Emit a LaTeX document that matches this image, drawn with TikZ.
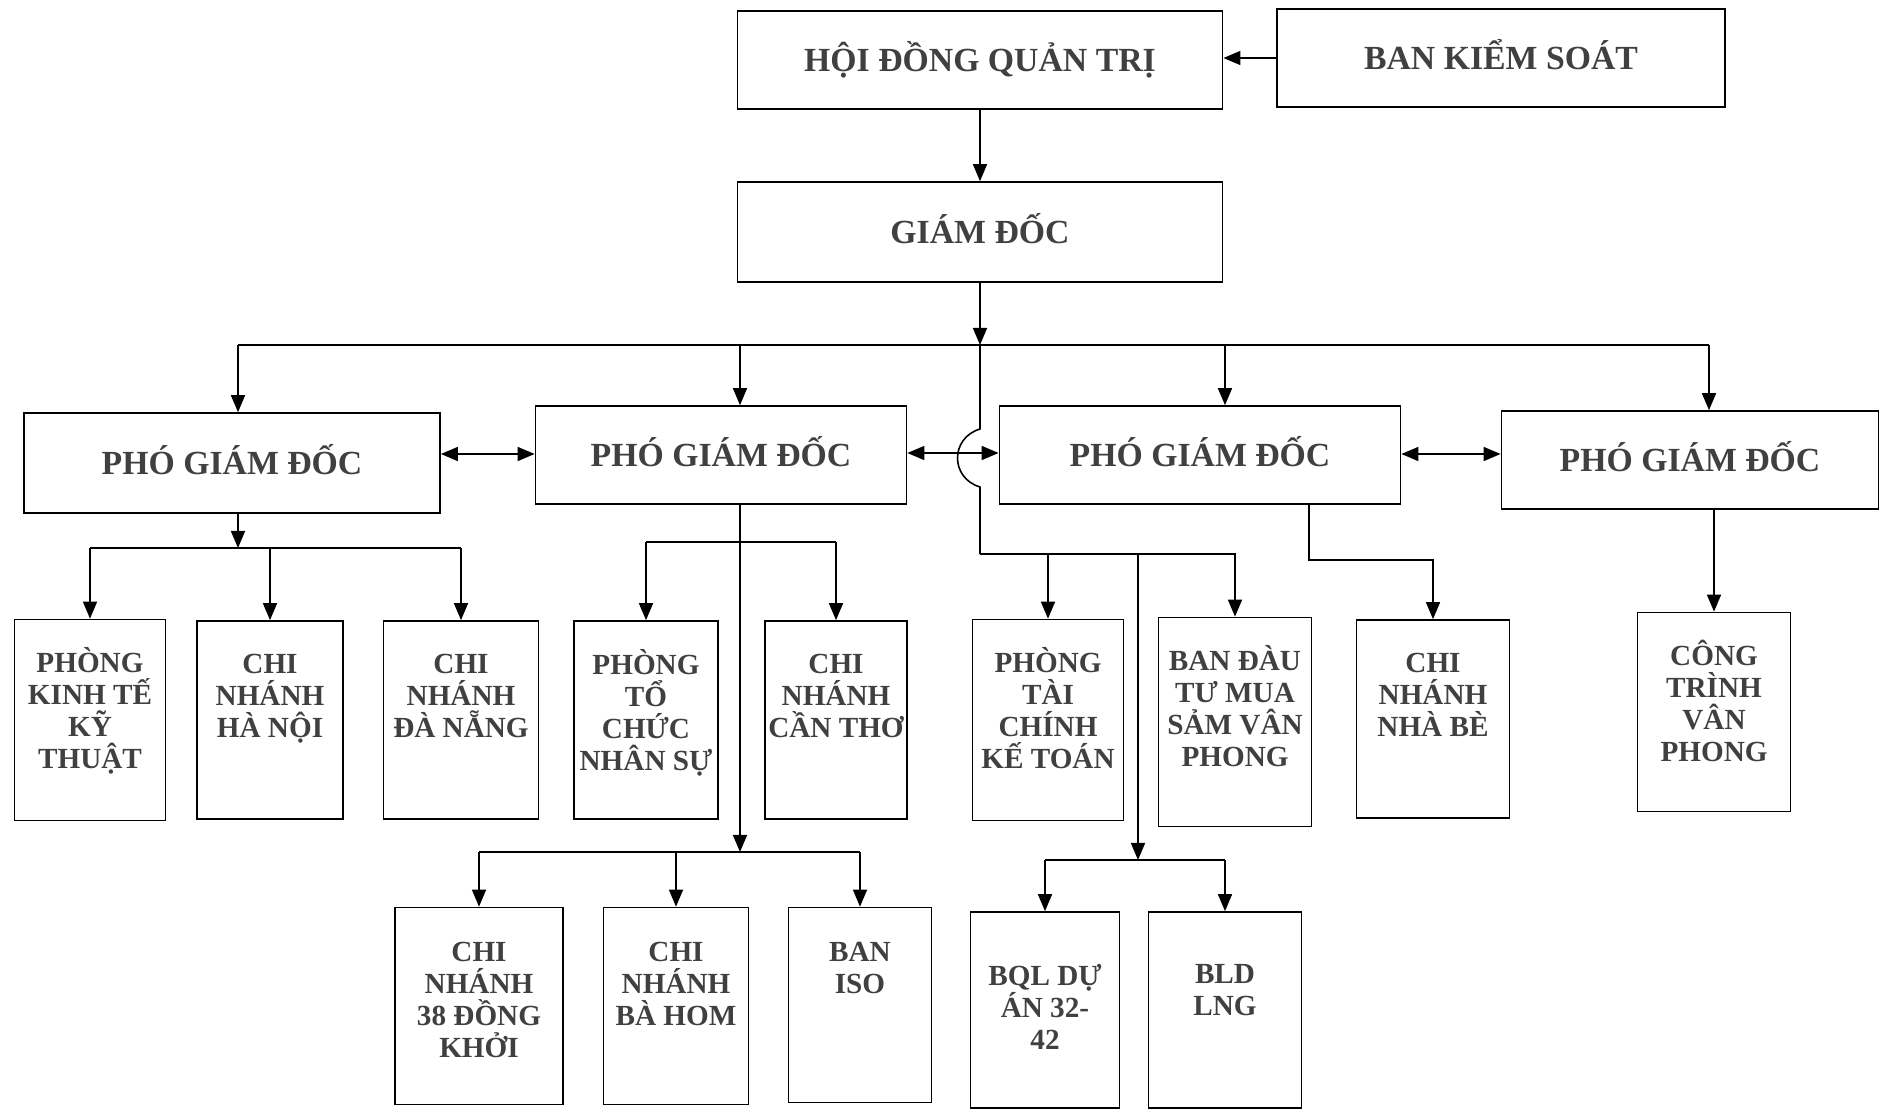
\documentclass[tikz,border=0pt]{standalone}
\usepackage{fontspec}
\setmainfont{Liberation Serif}
\usepackage{xcolor}
\usetikzlibrary{arrows.meta}
\definecolor{txt}{HTML}{404040}

\begin{document}
\begin{tikzpicture}[x=0.01cm,y=-0.01cm,->,>={Triangle[length=0.17cm,width=0.14cm]},line width=0.45pt,
    big box/.style={draw,-,minimum height=0.98cm,inner sep=0pt,text height=6.4pt,text depth=0pt,text=txt,font=\bfseries\fontsize{9.6}{11}\selectfont},
    unit box/.style={draw,-,minimum height=1.98cm,inner sep=0pt},
    unit text/.style={anchor=north,yshift=-0.28cm,align=center,inner sep=0pt,text=txt,font=\bfseries\fontsize{8.3}{9.1}\selectfont}]

    \useasboundingbox (0,0) rectangle (1887,1109);

    \node[big box, minimum width=4.85cm] (hdqt) at (980,60) {HỘI ĐỒNG QUẢN TRỊ};
    \node[big box, minimum width=4.48cm] (bks) at (1501,58) {BAN KIỂM SOÁT};
    \node[big box, minimum width=4.85cm, minimum height=1.0cm] (gd) at (980,232) {GIÁM ĐỐC};

    \node[big box, minimum width=4.16cm, minimum height=1.0cm] (pgd1) at (232,463) {PHÓ GIÁM ĐỐC};
    \node[big box, minimum width=3.71cm] (pgd2) at (721,455) {PHÓ GIÁM ĐỐC};
    \node[big box, minimum width=4.01cm] (pgd3) at (1200,455) {PHÓ GIÁM ĐỐC};
    \node[big box, minimum width=3.77cm] (pgd4) at (1690,460) {PHÓ GIÁM ĐỐC};

    \node[unit box, minimum width=1.51cm, minimum height=2.01cm, label={[unit text]north:{PHÒNG\\KINH TẾ\\KỸ\\THUẬT}}] (pktkt) at (90,720) {};
    \node[unit box, minimum width=1.46cm, label={[unit text, yshift=-0.05cm]north:{CHI\\NHÁNH\\HÀ NỘI}}] (cnhn) at (270,720) {};
    \node[unit box, minimum width=1.55cm, label={[unit text, yshift=-0.05cm]north:{CHI\\NHÁNH\\ĐÀ NẴNG}}] (cndn) at (461,720) {};
    \node[unit box, minimum width=1.44cm, label={[unit text]north:{PHÒNG\\TỔ\\CHỨC\\NHÂN SỰ}}] (ptcns) at (646,720) {};
    \node[unit box, minimum width=1.42cm, label={[unit text, yshift=-0.05cm]north:{CHI\\NHÁNH\\CẦN THƠ}}] (cnct) at (836,720) {};
    \node[unit box, minimum width=1.51cm, minimum height=2.01cm, label={[unit text]north:{PHÒNG\\TÀI\\CHÍNH\\KẾ TOÁN}}] (ptckt) at (1048,720) {};
    \node[unit box, minimum width=1.53cm, minimum height=2.09cm, label={[unit text]north:{BAN ĐÀU\\TƯ MUA\\SẢM VÂN\\PHONG}}] (bdt) at (1235,722) {};
    \node[unit box, minimum width=1.53cm, label={[unit text, yshift=-0.05cm]north:{CHI\\NHÁNH\\NHÀ BÈ}}] (cnnb) at (1433,719) {};
    \node[unit box, minimum width=1.53cm, minimum height=1.99cm, label={[unit text]north:{CÔNG\\TRÌNH\\VÂN\\PHONG}}] (ctvp) at (1714,712) {};

    \node[unit box, minimum width=1.68cm, minimum height=1.97cm, label={[unit text, yshift=-0.07cm]north:{CHI\\NHÁNH\\38 ĐỒNG\\KHỞI}}] (cn38) at (479,1006) {};
    \node[unit box, minimum width=1.45cm, minimum height=1.97cm, label={[unit text, yshift=-0.07cm]north:{CHI\\NHÁNH\\BÀ HOM}}] (cnbh) at (676,1006) {};
    \node[unit box, minimum width=1.43cm, minimum height=1.95cm, label={[unit text, yshift=-0.07cm]north:{BAN\\ISO}}] (iso) at (860,1005) {};
    \node[unit box, minimum width=1.49cm, minimum height=1.96cm, label={[unit text, yshift=-0.24cm]north:{BQL DỰ\\ÁN 32-\\42}}] (bql) at (1045,1010) {};
    \node[unit box, minimum width=1.53cm, minimum height=1.96cm, label={[unit text, yshift=-0.24cm]north:{BLD\\LNG}}] (bld) at (1225,1010) {};

    \coordinate (top bus) at (980,345);
    \coordinate (mid bus) at (980,554);
    \coordinate (bus1) at (238,548);
    \coordinate (bus2) at (740,542);
    \coordinate (low bus l) at (740,852);
    \coordinate (low bus r) at (1138,860);

    \draw (bks.west) -- (bks.west -| hdqt.east);
    \draw (hdqt) -- (gd);
    \draw (gd) -- (top bus);
    \draw[-] (238,345) -- (1709,345);
    \foreach \n/\x in {pgd1/238,pgd2/740,pgd3/1225,pgd4/1709}
        \draw (\x,345) -- (\x,345 |- \n.north);

    \draw[<->] (pgd1.east |- 0,454) -- (pgd2.west |- 0,454);
    \draw[<->] (pgd2.east |- 0,453) -- (pgd3.west |- 0,453);
    \draw[<->] (pgd3.east |- 0,454) -- (pgd4.west |- 0,454);

    \draw[-] (top bus) -- (980,429) .. controls (950,438) and (950,478) .. (980,487) -- (mid bus);
    \draw (mid bus) -| (bdt.north);
    \draw (ptckt.north |- mid bus) -- (ptckt.north);
    \draw (mid bus -| low bus r) -- (low bus r);
    \draw[-] (bql.north |- low bus r) -- (bld.north |- low bus r);
    \foreach \n in {bql,bld}
        \draw (\n.north |- low bus r) -- (\n.north);

    \draw (bus1 |- pgd1.south) -- (bus1);
    \draw[-] (pktkt.north |- bus1) -- (cndn.north |- bus1);
    \foreach \n in {pktkt,cnhn,cndn}
        \draw (\n.north |- bus1) -- (\n.north);

    \draw (low bus l |- pgd2.south) -- (low bus l);
    \draw[-] (ptcns.north |- bus2) -- (cnct.north |- bus2);
    \foreach \n in {ptcns,cnct}
        \draw (\n.north |- bus2) -- (\n.north);
    \draw[-] (cn38.north |- low bus l) -- (iso.north |- low bus l);
    \foreach \n in {cn38,cnbh,iso}
        \draw (\n.north |- low bus l) -- (\n.north);

    \draw (1309,0 |- pgd3.south) -- (1309,560) -| (cnnb.north);
    \draw (pgd4.south -| ctvp.north) -- (ctvp.north);
\end{tikzpicture}
\end{document}
